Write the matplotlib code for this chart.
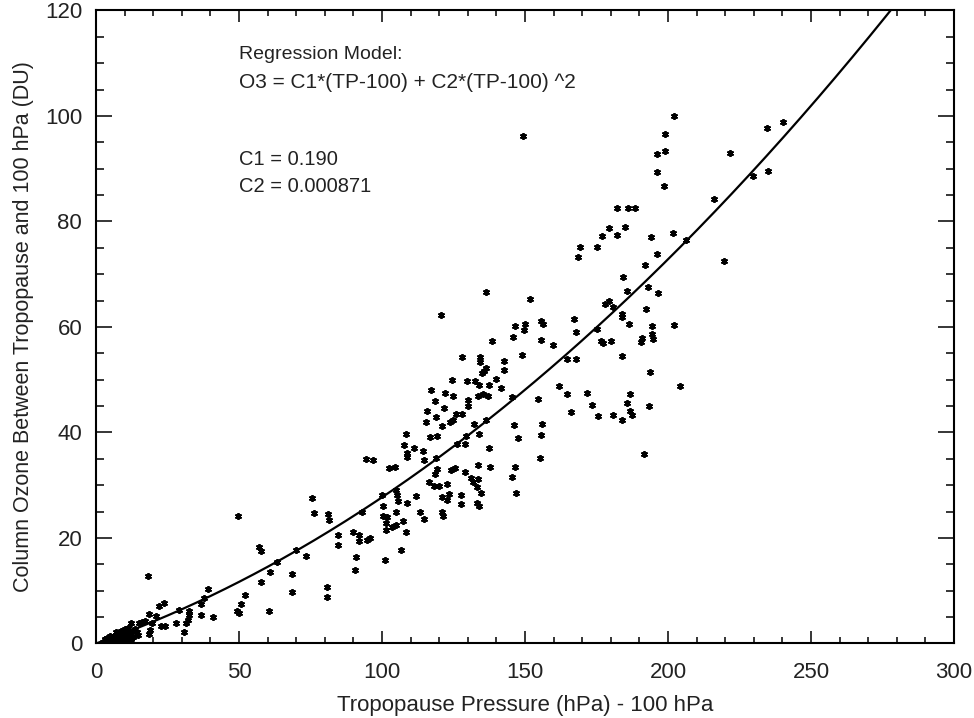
import numpy as np
import matplotlib.pyplot as plt
from matplotlib.ticker import MultipleLocator

# regression coefficients shown on the chart
C1 = 0.190
C2 = 0.000871

# upper-right group (TP-100 > 145 hPa)
x_high = [149.2, 202.1, 199.1, 199.1, 196.3, 196.3, 198.5, 182.2, 185.9, 188.6,
          179.2, 185.1, 176.8, 182.0, 193.9, 201.9, 206.2, 169.3, 175.3, 221.7,
          216.2, 229.6, 234.7, 240.3, 234.9, 219.6, 168.4, 196.3, 192.0, 184.1,
          185.7, 193.0, 196.5, 178.0, 179.5, 180.9, 192.3, 184.0, 184.0, 186.2,
          194.4, 202.1, 167.2, 167.8, 175.0, 159.9, 176.6, 177.4, 180.1, 191.0,
          190.4, 194.5, 194.6, 164.8, 167.7, 183.8, 193.6, 161.9, 204.2, 164.6,
          171.6, 186.8, 173.4, 185.5, 193.2, 186.6, 187.5, 166.1, 175.4, 180.9,
          183.8, 191.7]
y_high = [96.2, 100.0, 96.5, 93.4, 92.7, 89.4, 86.7, 82.6, 82.6, 82.6,
          78.7, 78.9, 77.3, 77.4, 77.1, 77.8, 76.4, 75.2, 75.2, 92.9,
          84.2, 88.6, 97.7, 98.8, 89.5, 72.6, 73.2, 73.8, 71.7, 69.5,
          66.8, 67.5, 66.4, 64.4, 64.9, 63.8, 63.5, 62.4, 61.8, 60.6,
          60.2, 60.4, 61.5, 59.0, 59.6, 56.5, 57.4, 57.0, 57.4, 57.9,
          57.1, 58.6, 57.7, 53.9, 53.9, 54.5, 51.5, 48.9, 48.9, 47.2,
          47.4, 47.2, 45.2, 45.6, 45.1, 44.1, 43.3, 43.8, 43.2, 43.4,
          42.4, 35.9]

# middle group (TP-100 between ~105 and 160 hPa)
x_mid = [136.5, 151.6, 120.7, 155.7, 156.4, 146.6, 149.9, 149.7, 145.7, 138.5,
         155.7, 148.9, 128.1, 134.3, 134.3, 142.8, 136.4, 135.7, 135.0, 142.6,
         139.8, 124.6, 129.8, 132.4, 133.9, 137.5, 141.7, 117.1, 122.1, 124.8,
         133.5, 135.3, 137.0, 130.1, 130.1, 145.6, 154.4, 118.4, 121.6, 115.8,
         125.9, 128.0, 118.8, 123.8, 124.9, 115.3, 132.3, 136.4, 120.8, 146.2,
         156.1, 108.3, 116.6, 119.1, 133.9, 147.7, 155.7, 129.4, 126.3, 129.1,
         107.6, 111.3, 108.7, 108.7, 114.2, 137.5, 114.7, 118.8, 155.2, 119.2,
         118.6, 124.2, 125.5, 129.0, 133.6, 137.8, 146.6, 145.5, 131.0, 131.9,
         133.6, 116.3, 118.3, 120.0, 122.7, 133.1, 121.0, 122.7, 123.4, 127.7,
         134.7, 111.8, 147.0, 108.8, 127.7, 133.3, 133.9, 113.4, 114.7, 120.8,
         121.3, 107.5, 108.5, 106.5]
y_mid = [66.7, 65.3, 62.2, 61.1, 60.6, 60.2, 60.6, 59.4, 58.1, 57.3,
         57.5, 54.6, 54.3, 54.3, 53.4, 53.6, 52.2, 51.7, 51.2, 51.9,
         50.1, 50.0, 49.8, 49.8, 49.0, 49.0, 48.4, 48.1, 47.4, 46.9,
         47.0, 47.3, 46.9, 46.1, 45.1, 46.7, 46.3, 46.0, 44.7, 44.1,
         43.5, 43.5, 43.0, 41.9, 42.4, 41.9, 41.7, 42.4, 41.2, 41.4,
         41.7, 39.7, 39.1, 39.3, 39.8, 38.9, 39.5, 39.3, 37.8, 37.9,
         37.6, 37.1, 36.1, 35.3, 36.5, 37.0, 34.7, 35.2, 35.1, 33.0,
         32.1, 32.9, 33.3, 32.6, 33.8, 33.4, 33.4, 31.6, 31.3, 30.6,
         31.1, 30.6, 29.9, 29.9, 30.2, 29.7, 27.8, 27.2, 28.4, 28.2,
         28.6, 28.0, 28.5, 26.6, 26.4, 26.7, 26.1, 24.9, 23.6, 24.9,
         24.2, 23.3, 21.1, 17.7]

# lower group (TP-100 between ~45 and 106 hPa)
x_low = [94.5, 96.7, 102.6, 104.5, 75.4, 76.1, 81.2, 81.4, 99.9, 105.0,
         105.1, 105.5, 100.2, 100.5, 101.9, 104.9, 92.9, 101.5, 104.9, 103.6,
         101.3, 84.5, 89.9, 92.0, 92.1, 94.8, 95.8, 84.6, 57.1, 57.7,
         69.9, 73.3, 90.8, 101.2, 90.6, 63.2, 60.8, 68.4, 57.6, 68.5,
         80.8, 80.9, 52.0, 50.6, 49.3, 49.9, 60.5, 49.7]
y_low = [34.9, 34.7, 33.2, 33.5, 27.6, 24.7, 24.5, 23.5, 28.1, 29.0,
         28.2, 27.0, 26.1, 24.2, 24.0, 25.0, 25.0, 22.8, 22.5, 22.0,
         21.5, 20.6, 21.2, 20.6, 19.5, 19.6, 20.0, 18.6, 18.3, 17.5,
         17.8, 16.6, 16.3, 15.8, 13.9, 15.5, 13.6, 13.1, 11.6, 9.7,
         10.8, 8.9, 9.2, 7.4, 6.1, 5.8, 6.2, 24.1]

# near the origin (TP-100 < 45 hPa)
x_near0 = [18.3, 39.0, 37.6, 36.8, 22.1, 23.8, 28.9, 32.4, 32.4, 32.1,
           31.4, 36.6, 40.8, 28.0, 30.9, 18.6, 21.0, 12.3, 15.1, 15.9,
           17.0, 19.6, 18.9, 18.5, 22.6, 24.1, 14.2, 12.5, 14.6,
           2.5, 3.0, 3.4, 3.9, 4.3, 4.8, 5.1, 5.5, 5.9, 6.2,
           6.6, 7.0, 7.2, 7.6, 8.0, 8.3, 8.7, 9.0, 9.2, 9.6,
           10.0, 10.3, 10.6, 11.0, 11.3, 11.7, 12.1, 12.4, 13.0, 13.6,
           6.9, 9.4, 4.6]
y_near0 = [12.7, 10.3, 8.7, 7.5, 7.1, 7.7, 6.4, 6.2, 5.4, 4.4,
           3.8, 5.4, 5.0, 3.8, 2.2, 5.5, 5.2, 3.9, 3.9, 4.1,
           4.3, 3.8, 2.6, 1.8, 3.3, 3.3, 2.2, 1.2, 1.7,
           0.3, 0.8, 0.1, 1.0, 0.4, 1.4, 0.2, 0.8, 0.4, 1.2,
           0.6, 2.1, 0.2, 1.0, 1.6, 0.5, 2.4, 1.0, 0.3, 1.8,
           2.7, 1.2, 0.6, 2.0, 3.0, 1.4, 0.8, 2.4, 1.2, 2.8,
           1.5, 0.7, 0.2]

plt.rcParams['font.family'] = ['Liberation Sans', 'DejaVu Sans']
text_color = '#222222'

fig = plt.figure(figsize=(9.74, 7.18), dpi=100)
ax = fig.add_axes([0.0986, 0.1038, 0.8809, 0.8816])

tp = np.array(x_high + x_mid + x_low + x_near0)
o3 = np.array(y_high + y_mid + y_low + y_near0)
ax.plot(tp, o3, ls='none', marker=(6, 2, 0), ms=5, mew=1.3, color='black')

xc = np.linspace(0, 300, 600)
ax.plot(xc, C1 * xc + C2 * xc ** 2, color='black', lw=1.6)

ax.set_xlim(0, 300)
ax.set_ylim(0, 120)
ax.xaxis.set_major_locator(MultipleLocator(50))
ax.xaxis.set_minor_locator(MultipleLocator(10))
ax.yaxis.set_major_locator(MultipleLocator(20))
ax.yaxis.set_minor_locator(MultipleLocator(5))

ax.tick_params(which='both', direction='in', top=True, right=True,
               width=1.1, labelsize=16, labelcolor=text_color)
ax.tick_params(axis='x', which='major', length=8.3, pad=13)
ax.tick_params(axis='x', which='minor', length=4.3)
ax.tick_params(axis='y', which='major', length=11.5, pad=10)
ax.tick_params(axis='y', which='minor', length=5.8)
for s in ax.spines.values():
    s.set_linewidth(1.5)

ylabels = ax.get_yticklabels()
ylabels[0].set_va('bottom')
ylabels[-1].set_va('top')

ax.set_xlabel('Tropopause Pressure (hPa) - 100 hPa', fontsize=16,
              color=text_color, labelpad=9)
ax.set_ylabel('Column Ozone Between Tropopause and 100 hPa (DU)', fontsize=15.5,
              color=text_color, labelpad=8)

ax.text(50, 111.6, 'Regression Model:', fontsize=14, color=text_color, va='center')
ax.text(50, 106.4, 'O3 = C1*(TP-100) + C2*(TP-100) ^2', fontsize=15,
        color=text_color, va='center')
ax.text(50, 91.7, f'C1 = {C1:.3f}', fontsize=14.5, color=text_color, va='center')
ax.text(50, 86.7, f'C2 = {C2:.6f}', fontsize=14.5, color=text_color, va='center')

fig.savefig('out.png', dpi=100)
